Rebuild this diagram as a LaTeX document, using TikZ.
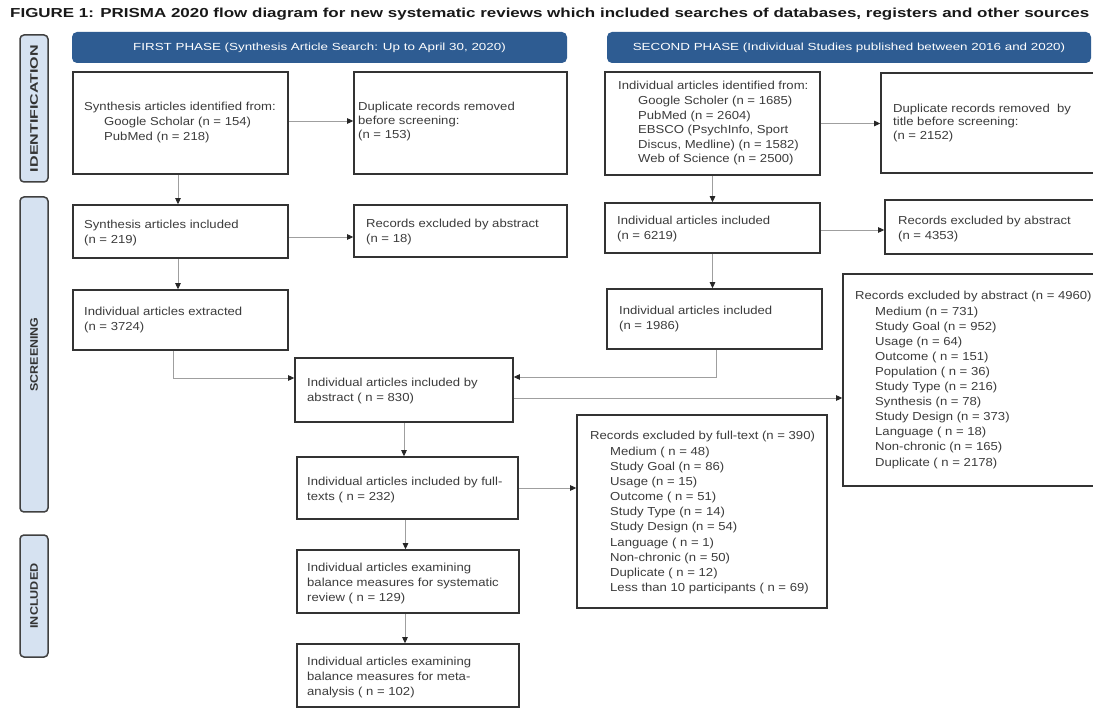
\documentclass[tikz,border=0pt]{standalone}
\usepackage{fontspec}
\setmainfont{Liberation Sans}[FakeStretch=1.13]
\newfontfamily\widefont{Liberation Sans}[FakeStretch=1.3]
\newfontfamily\sidefont{Liberation Sans}
\usepackage{xcolor}
\usepackage{graphicx}
\usetikzlibrary{arrows.meta}
\definecolor{phaseblue}{HTML}{2E5C92}
\definecolor{sidefill}{HTML}{D6E2F1}
\definecolor{inkgray}{HTML}{3C3C3C}
\newcommand{\ind}{\hspace*{20pt}}

\begin{document}
\begin{tikzpicture}[x=1pt, y=-1pt,
        box/.style={draw=black!80, line width=1.6pt, fill=white, inner sep=0pt},
        txt/.style={anchor=west, align=left, inner sep=0pt, text=inkgray, font=\fontsize{11.6}{15}\selectfont},
        banner/.style={fill=phaseblue, rounded corners=5pt, text=white, font=\widefont\fontsize{10.3}{12}\selectfont, inner sep=0pt, minimum height=31},
        side/.style={draw=black!75, fill=sidefill, line width=1.5pt, rounded corners=4pt, minimum width=28, inner sep=0pt},
        sidetext/.style={rotate=90, text=black!80, font=\sidefont\bfseries\fontsize{11}{12}\selectfont, inner sep=0pt},
        link/.style={draw=gray!75, line width=0.8pt, -{Triangle[length=6pt, width=5.5pt, color=black!85]}}
    ]

        \fill[white] (0,0) rectangle (1093,708);
        \useasboundingbox (0,0) rectangle (1093,708);

        \node[anchor=base west, inner sep=0pt, text=black!90, font=\widefont\bfseries\fontsize{13.05}{14}\selectfont] (title) at (10,18) {FIGURE 1: PRISMA 2020 flow diagram for new systematic reviews which included searches of databases, registers and other sources};

        % stage labels
        \node[side, minimum height=147] (ident) at (34,108.5) {};
        \node[sidetext] (ident-t) at (ident) {\resizebox{127pt}{\height}{IDENTIFICATION}};
        \node[side, minimum height=315] (screen) at (34,354.5) {};
        \node[sidetext] (screen-t) at (screen) {\resizebox{74pt}{\height}{SCREENING}};
        \node[side, minimum height=122] (incl) at (34,596) {};
        \node[sidetext] (incl-t) at (incl) {\resizebox{65pt}{\height}{INCLUDED}};

        \node[banner, minimum width=495] (phaseone) at (319.5,47.5) {FIRST PHASE (Synthesis Article Search: Up to April 30, 2020)};
        \node[banner, minimum width=484] (phasetwo) at (849,47.5) {SECOND PHASE (Individual Studies published between 2016 and 2020)};

        % first phase
        \node[box, minimum width=215, minimum height=102] (synth) at (180.5,123) {};
        \node[txt] (synth-t) at (84,123) {Synthesis articles identified from:\\\ind Google Scholar (n = 154)\\\ind PubMed (n = 218)};
        \node[box, minimum width=213, minimum height=102] (dupone) at (460.5,123) {};
        \node[txt, font=\fontsize{11.6}{14}\selectfont] (dupone-t) at (358,122) {Duplicate records removed\\before screening:\\(n = 153)};
        \node[box, minimum width=215, minimum height=53] (inclone) at (180.5,231.5) {};
        \node[txt] (inclone-t) at (84,233) {Synthesis articles included\\(n = 219)};
        \node[box, minimum width=213, minimum height=52] (exclone) at (460.5,231) {};
        \node[txt] (exclone-t) at (366,232) {Records excluded by abstract\\(n = 18)};
        \node[box, minimum width=215, minimum height=60] (extr) at (180.5,320) {};
        \node[txt] (extr-t) at (84,320) {Individual articles extracted\\(n = 3724)};

        % second phase
        \node[box, minimum width=215, minimum height=103] (idtwo) at (712.5,123.5) {};
        \node[txt, font=\fontsize{11.6}{14.6}\selectfont] (idtwo-t) at (618,123.5) {Individual articles identified from:\\\ind Google Scholer (n = 1685)\\\ind PubMed (n = 2604)\\\ind EBSCO (PsychInfo, Sport\\\ind Discus, Medline) (n = 1582)\\\ind Web of Science (n = 2500)};
        \node[box, minimum width=219, minimum height=100] (duptwo) at (990.5,123) {};
        \node[txt, font=\fontsize{11.6}{13.5}\selectfont] (duptwo-t) at (893,123) {Duplicate records removed\ \ by\\title before screening:\\(n = 2152)};
        \node[box, minimum width=215, minimum height=50] (incltwo) at (712.5,228) {};
        \node[txt] (incltwo-t) at (617,229.5) {Individual articles included\\(n = 6219)};
        \node[box, minimum width=215, minimum height=54] (excltwo) at (992.5,227) {};
        \node[txt] (excltwo-t) at (898,229.5) {Records excluded by abstract\\(n = 4353)};
        \node[box, minimum width=215, minimum height=60] (indv) at (714.5,319) {};
        \node[txt] (indv-t) at (619,319.5) {Individual articles included\\(n = 1986)};
        \node[box, minimum width=257, minimum height=212] (exclabs) at (971.5,380) {};
        \node[txt, font=\fontsize{11.6}{15.1}\selectfont] (exclabs-t) at (855,380) {Records excluded by abstract (n = 4960)\\\ind Medium (n = 731)\\\ind Study Goal (n = 952)\\\ind Usage (n = 64)\\\ind Outcome ( n = 151)\\\ind Population ( n = 36)\\\ind Study Type (n = 216)\\\ind Synthesis (n = 78)\\\ind Study Design (n = 373)\\\ind Language ( n = 18)\\\ind Non-chronic (n = 165)\\\ind Duplicate ( n = 2178)};

        % merged stream
        \node[box, minimum width=218, minimum height=64] (abst) at (404,390) {};
        \node[txt] (abst-t) at (307,390.5) {Individual articles included by\\abstract ( n = 830)};
        \node[box, minimum width=221, minimum height=62] (full) at (407.5,488) {};
        \node[txt] (full-t) at (307,489.5) {Individual articles included by full-\\texts ( n = 232)};
        \node[box, minimum width=250, minimum height=193] (exclfull) at (702,511.5) {};
        \node[txt, font=\fontsize{11.6}{15.17}\selectfont] (exclfull-t) at (590,512.8) {Records excluded by full-text (n = 390)\\\ind Medium ( n = 48)\\\ind Study Goal (n = 86)\\\ind Usage (n = 15)\\\ind Outcome ( n = 51)\\\ind Study Type (n = 14)\\\ind Study Design (n = 54)\\\ind Language ( n = 1)\\\ind Non-chronic (n = 50)\\\ind Duplicate ( n = 12)\\\ind Less than 10 participants ( n = 69)};
        \node[box, minimum width=222, minimum height=63] (sysrev) at (408,581.5) {};
        \node[txt] (sysrev-t) at (307,583) {Individual articles examining\\balance measures for systematic\\review ( n = 129)};
        \node[box, minimum width=222, minimum height=63] (meta) at (408,675.5) {};
        \node[txt] (meta-t) at (307,677) {Individual articles examining\\balance measures for meta-\\analysis ( n = 102)};

        % connectors
        \draw[link] ([yshift=2pt]synth.east) -- ([yshift=2pt]synth.east -| dupone.west);
        \draw[link] ([xshift=-2.5pt]synth.south) -- ([xshift=-2.5pt]synth.south |- inclone.north);
        \draw[link] ([yshift=-5.5pt]inclone.east) -- ([yshift=-5.5pt]inclone.east -| exclone.west);
        \draw[link] ([xshift=-2.5pt]inclone.south) -- ([xshift=-2.5pt]inclone.south |- extr.north);
        \draw[link] ([xshift=-7pt]extr.south) |- ([yshift=12pt]abst.west);

        \draw[link] (idtwo.east) -- (idtwo.east -| duptwo.west);
        \draw[link] (idtwo.south) -- (idtwo.south |- incltwo.north);
        \draw[link] ([yshift=-2pt]incltwo.east) -- ([yshift=-2pt]incltwo.east -| excltwo.west);
        \draw[link] (incltwo.south) -- (incltwo.south |- indv.north);
        \draw[link] ([xshift=1.5pt]indv.south) |- ([yshift=13pt]abst.east);

        \draw[link] ([yshift=-8pt]abst.east) -- ([yshift=-8pt]abst.east -| exclabs.west);
        \draw[link] (abst.south) -- (abst.south |- full.north);
        \draw[link] (full.east) -- (full.east -| exclfull.west);
        \draw[link] ([xshift=-2pt]full.south) -- ([xshift=-2pt]full.south |- sysrev.north);
        \draw[link] ([xshift=-3pt]sysrev.south) -- ([xshift=-3pt]sysrev.south |- meta.north);
    \end{tikzpicture}
\end{document}
